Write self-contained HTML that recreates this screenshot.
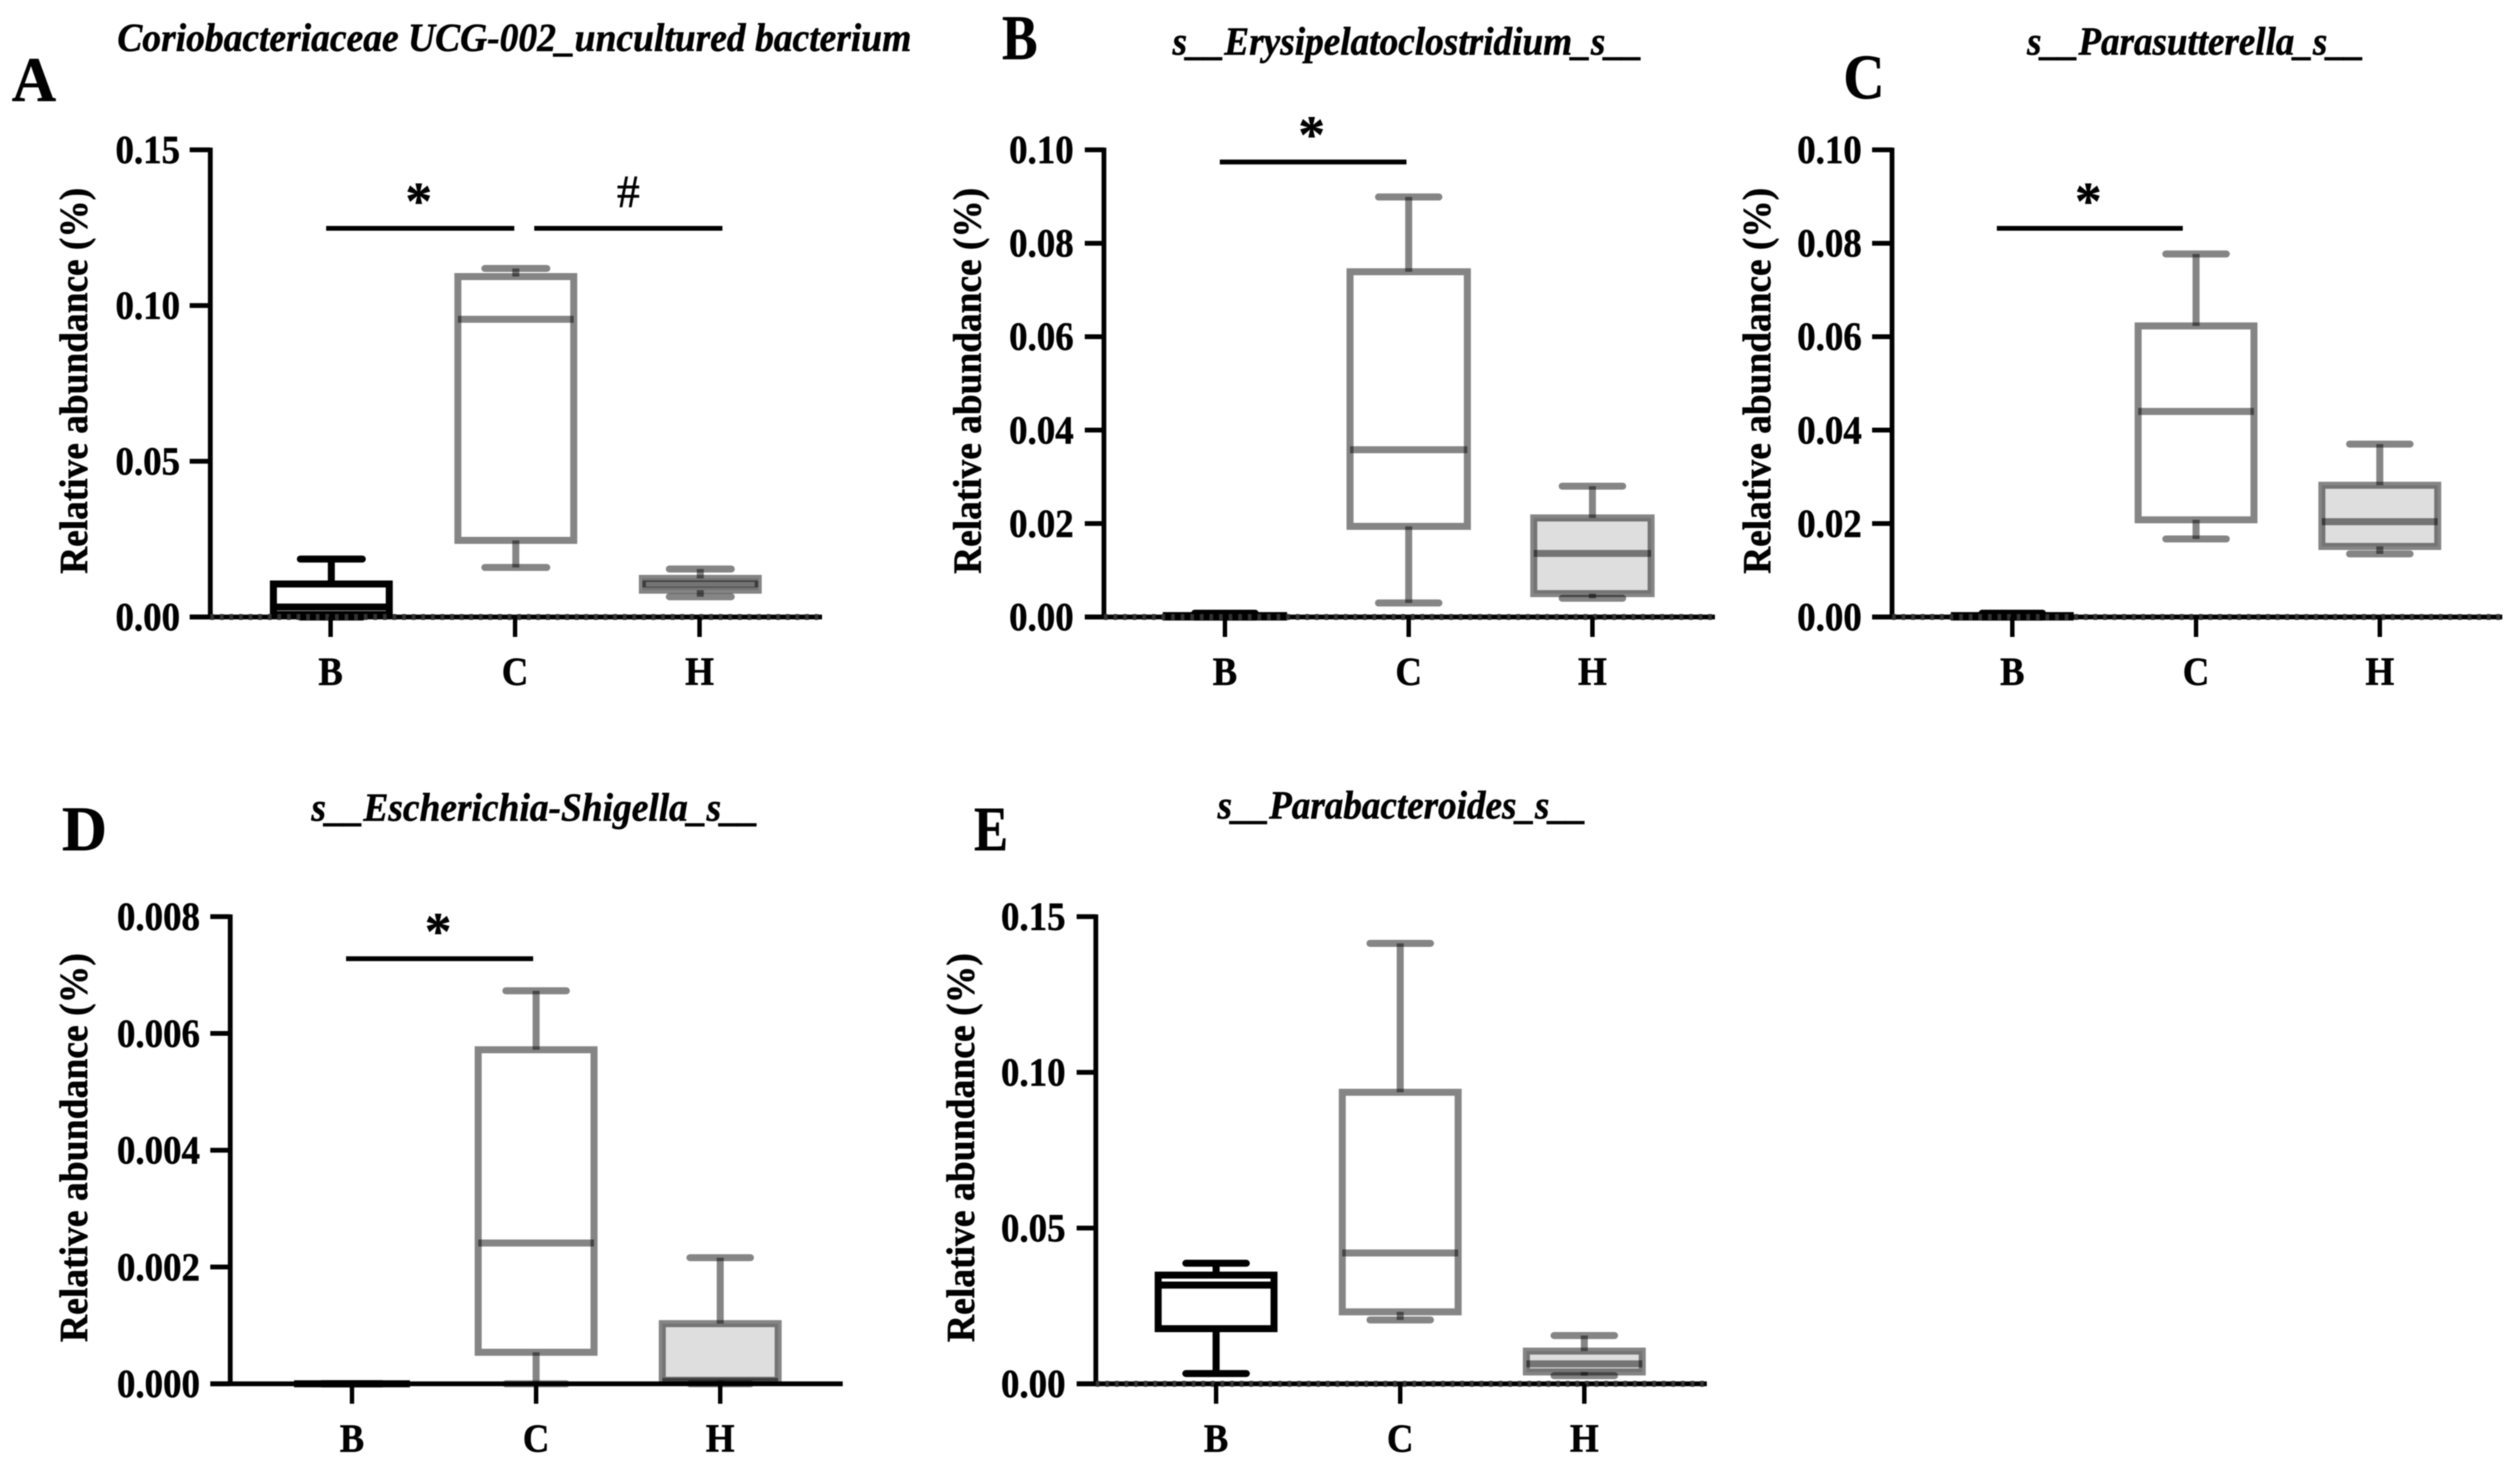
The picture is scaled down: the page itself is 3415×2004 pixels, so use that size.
<!DOCTYPE html>
<html lang="en">
<head>
<meta charset="utf-8">
<title>Relative abundance box plots</title>
<style>
  html, body { margin: 0; padding: 0; background: #fff; }
  svg { display: block; filter: blur(0.7px); }
  text { font-family: "Liberation Serif", serif; fill: #000; stroke: #000; stroke-width: 0.7px; }
  .bold { font-weight: bold; }
  .title { font-weight: bold; font-style: italic; font-size: 54px; }
  .ylab { font-weight: bold; font-size: 54px; }
  .letter { font-weight: bold; font-size: 86px; }
</style>
</head>
<body>
<svg id="figure" xmlns="http://www.w3.org/2000/svg" width="3415" height="2004" viewBox="0 0 3415 2004">
  <rect x="0" y="0" width="3415" height="2004" fill="#fff"/>

  <g id="panel-a">
    <text class="letter" x="16" y="137" textLength="60" lengthAdjust="spacingAndGlyphs">A</text>
    <text class="title" x="159" y="69" textLength="1076" lengthAdjust="spacingAndGlyphs">Coriobacteriaceae UCG-002_uncultured bacterium</text>
    <text class="ylab" transform="translate(118,516) rotate(-90)" text-anchor="middle" textLength="523" lengthAdjust="spacingAndGlyphs">Relative abundance (%)</text>
  </g>
  <g id="panel-b">
    <text class="letter" x="1358" y="80" textLength="48" lengthAdjust="spacingAndGlyphs">B</text>
    <text class="title" x="1589" y="74" textLength="637" lengthAdjust="spacingAndGlyphs">s__Erysipelatoclostridium_s__</text>
    <text class="ylab" transform="translate(1329,516) rotate(-90)" text-anchor="middle" textLength="523" lengthAdjust="spacingAndGlyphs">Relative abundance (%)</text>
  </g>
  <g id="panel-c">
    <text class="letter" x="2498" y="133" textLength="56" lengthAdjust="spacingAndGlyphs">C</text>
    <text class="title" x="2747" y="74" textLength="457" lengthAdjust="spacingAndGlyphs">s__Parasutterella_s__</text>
    <text class="ylab" transform="translate(2399,516) rotate(-90)" text-anchor="middle" textLength="523" lengthAdjust="spacingAndGlyphs">Relative abundance (%)</text>
  </g>
  <g id="panel-d">
    <text class="letter" x="84" y="1152" textLength="61" lengthAdjust="spacingAndGlyphs">D</text>
    <text class="title" x="422" y="1112" textLength="606" lengthAdjust="spacingAndGlyphs">s__Escherichia-Shigella_s__</text>
    <text class="ylab" transform="translate(118,1555) rotate(-90)" text-anchor="middle" textLength="527" lengthAdjust="spacingAndGlyphs">Relative abundance (%)</text>
  </g>
  <g id="panel-e">
    <text class="letter" x="1320" y="1152" textLength="46" lengthAdjust="spacingAndGlyphs">E</text>
    <text class="title" x="1650" y="1109" textLength="500" lengthAdjust="spacingAndGlyphs">s__Parabacteroides_s__</text>
    <text class="ylab" transform="translate(1320,1555) rotate(-90)" text-anchor="middle" textLength="527" lengthAdjust="spacingAndGlyphs">Relative abundance (%)</text>
  </g>
</svg>

<script>
// Shared categories
const categories = ['B', 'C', 'H'];

// Panel A
const aTicks = ['0.00', '0.05', '0.10', '0.15'];
const aLow = [0.0, 0.0159, 0.0065];
const aQ1 = [0.0008, 0.0246, 0.0086];
const aMedian = [0.0032, 0.0956, 0.0106];
const aQ3 = [0.0106, 0.1093, 0.0124];
const aHigh = [0.0186, 0.1119, 0.0154];
const aSigLevels = [0.1248, 0.1248];

// Panel B
const bTicks = ['0.00', '0.02', '0.04', '0.06', '0.08', '0.10'];
const bLow = [0.0, 0.003, 0.004];
const bQ1 = [0.0, 0.0194, 0.005];
const bMedian = [0.0002, 0.0358, 0.0136];
const bQ3 = [0.0003, 0.0739, 0.0212];
const bHigh = [0.0008, 0.0899, 0.028];
const bSigLevels = [0.0974];

// Panel C
const cTicks = ['0.00', '0.02', '0.04', '0.06', '0.08', '0.10'];
const cLow = [0.0, 0.0167, 0.0135];
const cQ1 = [0.0, 0.0208, 0.0151];
const cMedian = [0.0002, 0.044, 0.0204];
const cQ3 = [0.0003, 0.0623, 0.0282];
const cHigh = [0.0008, 0.0777, 0.037];
const cSigLevels = [0.0832];

// Panel D
const dTicks = ['0.000', '0.002', '0.004', '0.006', '0.008'];
const dLow = [0.0, 0.0, 0.0];
const dQ1 = [0.0, 0.00054, 0.00006];
const dMedian = [0.0, 0.00241, 0.00004];
const dQ3 = [0.0, 0.00572, 0.00103];
const dHigh = [0.0, 0.00673, 0.00216];
const dSigLevels = [0.00728];

// Panel E
const eTicks = ['0.00', '0.05', '0.10', '0.15'];
const eLow = [0.0033, 0.0205, 0.0026];
const eQ1 = [0.0177, 0.0231, 0.0038];
const eMedian = [0.0317, 0.042, 0.0064];
const eQ3 = [0.0349, 0.0936, 0.0105];
const eHigh = [0.0387, 0.1414, 0.0155];
const eSigLevels = [];

// Layout and styling of each panel (geometry only)
const panels = [
  { id: 'a', axisX: 285, tickLeft: 257, axisEnd: 1114, top: 203, bottom: 836, firstX: 448, step: 250, boxDx: 1, boxW: 157, capW: 84, max: 0.15, dotted: true,
    ticks: aTicks, low: aLow, q1: aQ1, med: aMedian, q3: aQ3, high: aHigh, sig: aSigLevels,
    sigSpec: [{ from: 0, to: 1, d0: -6, d1: -1, mark: '*' }, { from: 1, to: 2, d0: 26, d1: 31, mark: '#' }] },
  { id: 'b', axisX: 1496, tickLeft: 1470, axisEnd: 2324, top: 203, bottom: 836, firstX: 1660, step: 249, boxDx: 0, boxW: 159, capW: 82, max: 0.10, dotted: true,
    ticks: bTicks, low: bLow, q1: bQ1, med: bMedian, q3: bQ3, high: bHigh, sig: bSigLevels,
    sigSpec: [{ from: 0, to: 1, d0: -7, d1: -3, mark: '*' }] },
  { id: 'c', axisX: 2564, tickLeft: 2537, axisEnd: 3391, top: 203, bottom: 836, firstX: 2727, step: 249, boxDx: 0, boxW: 157, capW: 82, max: 0.10, dotted: true,
    ticks: cTicks, low: cLow, q1: cQ1, med: cMedian, q3: cQ3, high: cHigh, sig: cSigLevels,
    sigSpec: [{ from: 0, to: 1, d0: -21, d1: -18, mark: '*' }] },
  { id: 'd', axisX: 312, tickLeft: 285, axisEnd: 1142, top: 1242, bottom: 1875, firstX: 477, step: 249.5, boxDx: 0, boxW: 157, capW: 82, max: 0.008, dotted: false,
    ticks: dTicks, low: dLow, q1: dQ1, med: dMedian, q3: dQ3, high: dHigh, sig: dSigLevels,
    sigSpec: [{ from: 0, to: 1, d0: -8, d1: -4, mark: '*' }] },
  { id: 'e', axisX: 1485, tickLeft: 1459, axisEnd: 2313, top: 1242, bottom: 1875, firstX: 1648, step: 249.5, boxDx: 0, boxW: 157, capW: 82, max: 0.15, dotted: true,
    ticks: eTicks, low: eLow, q1: eQ1, med: eMedian, q3: eQ3, high: eHigh, sig: eSigLevels,
    sigSpec: [] }
];

const NS = 'http://www.w3.org/2000/svg';
const GROUP_STROKES = ['#000', 'rgba(0,0,0,0.48)', 'rgba(0,0,0,0.48)'];
const GROUP_FILLS = ['none', 'none', '#dedede'];
const X_LABEL_WIDTHS = [33, 36, 39];

function mk(parent, tag, attrs) {
  const el = document.createElementNS(NS, tag);
  for (const k in attrs) el.setAttribute(k, attrs[k]);
  parent.appendChild(el);
  return el;
}

function drawPanel(p) {
  const root = document.getElementById('panel-' + p.id);
  const yScale = v => p.bottom - (v / p.max) * (p.bottom - p.top);
  const xScale = i => p.firstX + i * p.step;
  const boxStroke = 9.5;

  categories.forEach((cat, i) => {
    const g = mk(root, 'g', {});
    
    
    const cx = xScale(i) + p.boxDx;
    const stroke = GROUP_STROKES[i];
    const common = { stroke: stroke, 'stroke-width': boxStroke, fill: 'none' };

    const box = mk(g, 'rect', {
      x: cx - p.boxW / 2, y: yScale(p.q3[i]), width: p.boxW,
      height: Math.max(0, yScale(p.q1[i]) - yScale(p.q3[i])),
      stroke: stroke, 'stroke-width': boxStroke, fill: GROUP_FILLS[i]
    });
    
    

    const med = mk(g, 'line', Object.assign({ x1: cx - p.boxW / 2, x2: cx + p.boxW / 2, y1: yScale(p.med[i]), y2: yScale(p.med[i]) }, common));
    
    

    const wHigh = mk(g, 'line', Object.assign({ x1: cx, x2: cx, y1: yScale(p.q3[i]), y2: yScale(p.high[i]) }, common));
    
    

    const wLow = mk(g, 'line', Object.assign({ x1: cx, x2: cx, y1: yScale(p.q1[i]), y2: yScale(p.low[i]) }, common));
    
    

    const capHigh = mk(g, 'line', Object.assign({ x1: cx - p.capW / 2, x2: cx + p.capW / 2, y1: yScale(p.high[i]), y2: yScale(p.high[i]), 'stroke-linecap': 'round' }, common));
    
    

    const capLow = mk(g, 'line', Object.assign({ x1: cx - p.capW / 2, x2: cx + p.capW / 2, y1: yScale(p.low[i]), y2: yScale(p.low[i]), 'stroke-linecap': 'round' }, common));
    
    
  });

  // Y axis
  const yAxis = mk(root, 'line', { x1: p.axisX, x2: p.axisX, y1: p.top - 3, y2: p.bottom + 3, stroke: '#000', 'stroke-width': 6.5 });
  
  

  // X axis
  const xAxis = mk(root, 'line', { x1: p.tickLeft, x2: p.axisEnd, y1: p.bottom, y2: p.bottom, stroke: '#000', 'stroke-width': 6.5 });
  
  

  if (p.dotted) {
    const zero = mk(root, 'line', { x1: p.axisX, x2: p.axisEnd, y1: p.bottom, y2: p.bottom, stroke: '#333', 'stroke-width': 8, 'stroke-dasharray': '5 8' });
    
    
  }

  // Y ticks and labels
  p.ticks.forEach((label, i) => {
    const y = p.bottom - i * (p.bottom - p.top) / (p.ticks.length - 1);
    const tick = mk(root, 'line', { x1: p.tickLeft, x2: p.axisX, y1: y, y2: y, stroke: '#000', 'stroke-width': 6.5 });
    
    
    const natural = ((label.length - 1) * 0.5 + 0.25) * 50;
    const t = mk(root, 'text', { x: p.axisX - 41 - natural, y: y + 18, 'font-size': 54, class: 'bold', textLength: natural, lengthAdjust: 'spacingAndGlyphs' });
    t.textContent = label;
    
    
  });

  // X ticks and labels
  categories.forEach((cat, i) => {
    const x = xScale(i);
    const tick = mk(root, 'line', { x1: x, x2: x, y1: p.bottom, y2: p.bottom + 27, stroke: '#000', 'stroke-width': 6 });
    
    
    const w = X_LABEL_WIDTHS[i];
    const t = mk(root, 'text', { x: x - w / 2, y: p.bottom + 92, 'font-size': 54, class: 'bold', textLength: w, lengthAdjust: 'spacingAndGlyphs' });
    t.textContent = cat;
    
    
  });

  // Significance bars and marks
  p.sigSpec.forEach((s, i) => {
    const y = yScale(p.sig[i]);
    const x0 = xScale(s.from) + s.d0;
    const x1 = xScale(s.to) + s.d1;
    const bar = mk(root, 'line', { x1: x0, x2: x1, y1: y, y2: y, stroke: '#000', 'stroke-width': 6.5 });
    
    
    const isStar = s.mark === '*';
    const m = mk(root, 'text', {
      x: (x0 + x1) / 2 - (isStar ? 2 : 0), y: isStar ? y - 13 : y - 29, 'text-anchor': 'middle',
      'font-size': isStar ? 72 : 62, class: isStar ? 'bold' : ''
    });
    m.textContent = s.mark;
    
    
  });
}

panels.forEach(drawPanel);
</script>
</body>
</html>
